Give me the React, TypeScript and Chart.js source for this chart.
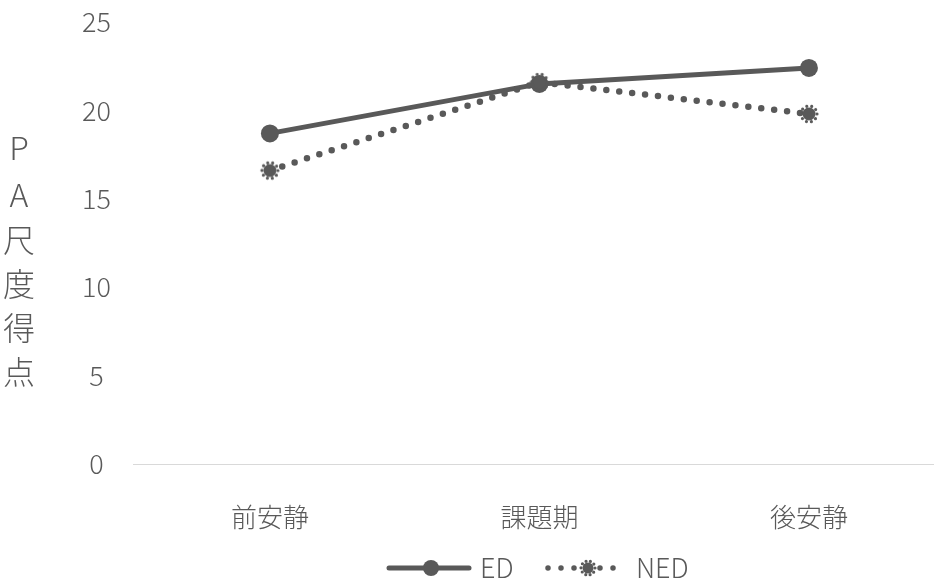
import React, { useEffect, useRef } from "react";
import { Chart, registerables } from "chart.js";

Chart.register(...registerables);

const categories = ["前安静", "課題期", "後安静"];
const seriesNames = ["ED", "NED"];
const edValues = [18.7, 21.5, 22.4];
const nedValues = [16.6, 21.6, 19.8];
const yTicks = [0, 5, 10, 15, 20, 25];
const yTitleChars = ["P", "A", "尺", "度", "得", "点"];

const GRAY = "#595959";
const FONT = "'Noto Sans CJK JP', 'Noto Sans', sans-serif";

function makeGearMarker(r: number): HTMLCanvasElement {
  const size = Math.ceil(r * 2 + 8);
  const c = document.createElement("canvas");
  c.width = size;
  c.height = size;
  const ctx = c.getContext("2d")!;
  const m = size / 2;
  ctx.fillStyle = GRAY;
  ctx.beginPath();
  ctx.arc(m, m, r - 1.5, 0, Math.PI * 2);
  ctx.fill();
  ctx.strokeStyle = GRAY;
  ctx.lineWidth = 3.2;
  ctx.lineCap = "round";
  const circ = 2 * Math.PI * r;
  const n = 10;
  ctx.setLineDash([0, circ / n]);
  ctx.beginPath();
  ctx.arc(m, m, r, 0, Math.PI * 2);
  ctx.stroke();
  return c;
}

export default function App() {
  const ref = useRef<HTMLCanvasElement>(null);
  useEffect(() => {
    if (!ref.current) return;
    const gear = makeGearMarker(8);
    const gearSmall = makeGearMarker(7);

    const yTitlePlugin = {
      id: "yTitle",
      afterDraw(chart: any) {
        const ctx = chart.ctx;
        ctx.save();
        ctx.fillStyle = GRAY;
        ctx.textAlign = "center";
        ctx.textBaseline = "middle";
        ctx.font = `300 32px ${FONT}`;
        const ys = [148, 195, 240, 284, 328, 372];
        yTitleChars.forEach((ch, i) => ctx.fillText(ch, 19, ys[i]));
        ctx.restore();
      },
    };

    const legendPlugin = {
      id: "customLegend",
      afterDraw(chart: any) {
        const ctx = chart.ctx;
        const y = 568;
        ctx.save();
        // ED
        ctx.strokeStyle = GRAY;
        ctx.lineWidth = 5;
        ctx.lineCap = "round";
        ctx.beginPath();
        ctx.moveTo(389, y);
        ctx.lineTo(469, y);
        ctx.stroke();
        ctx.fillStyle = GRAY;
        ctx.beginPath();
        ctx.arc(431, y, 8, 0, Math.PI * 2);
        ctx.fill();
        // NED
        ctx.lineWidth = 5.5;
        ctx.setLineDash([0, 13]);
        ctx.beginPath();
        ctx.moveTo(548, y);
        ctx.lineTo(620, y);
        ctx.stroke();
        ctx.setLineDash([]);
        ctx.drawImage(gearSmall, 588 - gearSmall.width / 2, y - gearSmall.height / 2);
        ctx.font = `300 27px ${FONT}`;
        ctx.textAlign = "left";
        ctx.textBaseline = "middle";
        ctx.fillText(seriesNames[0], 480, y);
        ctx.fillText(seriesNames[1], 636, y);
        ctx.restore();
      },
    };

    const chart = new Chart(ref.current, {
      type: "line",
      data: {
        datasets: [
          {
            label: seriesNames[0],
            data: edValues.map((v, i) => ({ x: i, y: v })),
            borderColor: GRAY,
            backgroundColor: GRAY,
            borderWidth: 5,
            pointRadius: 9,
            pointBorderWidth: 0,
            pointBackgroundColor: GRAY,
            pointStyle: "circle",
            tension: 0,
            order: 1,
          },
          {
            label: seriesNames[1],
            data: nedValues.map((v, i) => ({ x: i, y: v })),
            borderColor: GRAY,
            backgroundColor: GRAY,
            borderWidth: 6.5,
            borderDash: [0, 13],
            borderCapStyle: "round",
            pointStyle: gear as any,
            pointRadius: 9,
            tension: 0,
            order: 0,
          },
        ],
      },
      options: {
        responsive: false,
        animation: false,
        layout: { autoPadding: false, padding: { top: 22, right: 0, bottom: 0, left: 0 } },
        plugins: {
          legend: { display: false },
          tooltip: { enabled: false },
        },
        scales: {
          x: {
            type: "linear",
            min: -0.508,
            max: 2.464,
            afterBuildTicks(scale: any) {
              scale.ticks = categories.map((_, i) => ({ value: i }));
            },
            afterFit(scale: any) {
              scale.height = 123;
              scale.paddingLeft = 0;
              scale.paddingRight = 0;
            },
            grid: { display: false, drawTicks: false },
            border: { display: true, color: "#d9d9d9", width: 1 },
            ticks: {
              padding: 38,
              color: GRAY,
              font: { family: FONT, size: 26, weight: 300 as any },
              maxRotation: 0,
              autoSkip: false,
              callback: (v: any) => categories[v as number] ?? "",
            },
          },
          y: {
            min: 0,
            max: 25,
            afterBuildTicks(scale: any) {
              scale.ticks = yTicks.map((v) => ({ value: v }));
            },
            afterFit(scale: any) {
              scale.width = 133;
              scale.paddingTop = 0;
              scale.paddingBottom = 0;
            },
            grid: { display: false, drawTicks: false },
            border: { display: false },
            ticks: {
              padding: 22,
              crossAlign: "center",
              color: GRAY,
              font: { family: FONT, size: 27, weight: 300 as any },
            },
          },
        },
      },
      plugins: [yTitlePlugin, legendPlugin],
    });
    return () => chart.destroy();
  }, []);

  return (
    <div style={{ position: "absolute", left: 0, top: 0, width: 934, height: 587, background: "#fff" }}>
      <canvas ref={ref} width={934} height={587} style={{ display: "block" }} />
    </div>
  );
}
